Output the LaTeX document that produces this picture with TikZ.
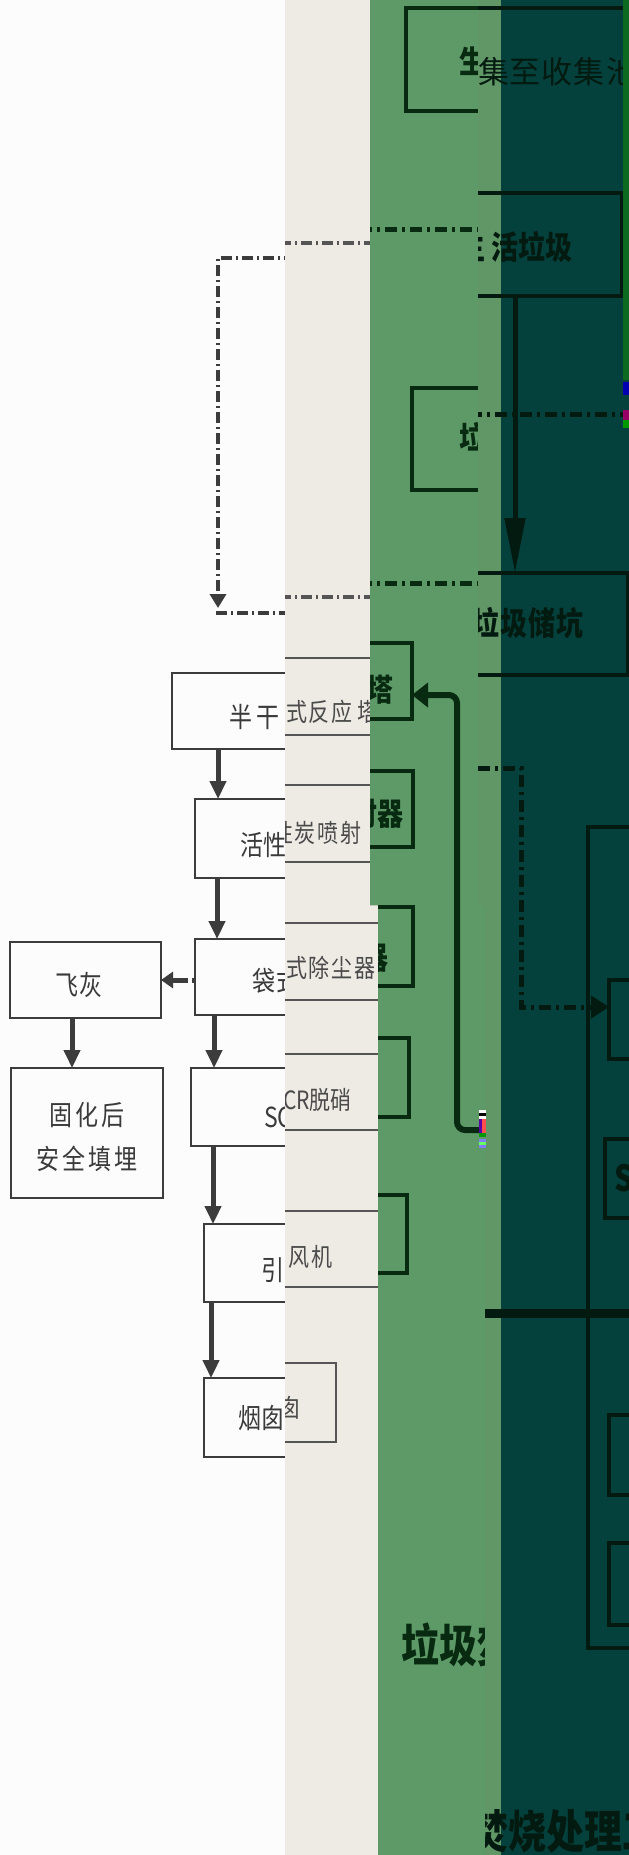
\documentclass[tikz,border=0pt]{standalone}
\usepackage{fontspec}
\usepackage{graphicx}
\newfontfamily\cjk{Noto Sans CJK SC}
\usetikzlibrary{arrows.meta}
\definecolor{cwhite}{HTML}{FCFCFC}
\definecolor{cbeige}{HTML}{EEEBE5}
\definecolor{cgreen}{HTML}{5E9A68}
\definecolor{cgreenb}{HTML}{619666}
\definecolor{cteal}{HTML}{04403C}
\definecolor{cstripe}{HTML}{0C6A20}
\definecolor{wline}{HTML}{3C3C3C}
\definecolor{bline}{HTML}{555555}
\definecolor{wtext}{HTML}{3A3A3A}
\definecolor{btext}{HTML}{4A4A4A}
\definecolor{gline}{HTML}{072A10}
\definecolor{tline}{HTML}{021A0F}
\newcommand\fsz[1]{\fontsize{#1pt}{#1pt}\selectfont}
\newcommand\tallt[1]{\scalebox{1}[1.2]{#1}}
\begin{document}
\begin{tikzpicture}[x=1pt,y=-1pt,
  bx/.style={draw,inner sep=0pt,outer sep=0pt,anchor=north west},
  wbox/.style={bx,draw=wline,line width=2pt},
  bbox/.style={bx,draw=bline,line width=2.2pt},
  gbox/.style={bx,draw=gline,line width=4pt},
  tbox/.style={bx,draw=tline,line width=4pt},
  lbl/.style={inner sep=0pt,outer sep=0pt},
  wtxt/.style={lbl,font=\cjk\fsz{23},text=wtext},
  btxt/.style={lbl,font=\cjk\fsz{21},text=btext},
  gtxt/.style={lbl,font=\cjk\bfseries\fsz{26},text=gline},
  gbig/.style={lbl,font=\cjk\bfseries\fsz{38},text=gline},
  ttxt/.style={lbl,font=\cjk\fsz{31},text=tline},
  tbtxt/.style={lbl,font=\cjk\bfseries\fsz{27},text=tline},
  warr/.style={draw=wline,line width=5pt,-{Triangle[length=18pt,width=16pt]}},
  wdd/.style={draw=wline,line width=3.5pt,dash pattern=on 11pt off 4pt on 2pt off 4pt},
  bdd/.style={draw=bline,line width=3.5pt,dash pattern=on 11pt off 4pt on 2pt off 4pt},
  gdd/.style={draw=gline,line width=5pt,dash pattern=on 12pt off 5pt on 3pt off 5pt},
  tdd/.style={draw=tline,line width=5pt,dash pattern=on 12pt off 5pt on 3pt off 5pt},
]
\useasboundingbox (0,0) rectangle (629,1855);

% ---------------- strip 1: white ----------------
\begin{scope}
\clip (0,0) rectangle (285,1855);
\fill[cwhite] (-1,-1) rectangle (286,1856);
\node[wbox,minimum width=260,minimum height=76] (w1) at (172,673) {};
\node[wbox,minimum width=230,minimum height=79] (w2) at (195,799) {};
\node[wbox,minimum width=230,minimum height=76] (w3) at (195,939) {};
\node[wbox,minimum width=151,minimum height=76] (wf) at (10,942) {};
\node[wbox,minimum width=152,minimum height=130] (wg) at (11,1068) {};
\node[wbox,minimum width=230,minimum height=78] (w4) at (191,1068) {};
\node[wbox,minimum width=200,minimum height=78] (w5) at (204,1224) {};
\node[wbox,minimum width=150,minimum height=79] (w6) at (204,1378) {};
\node[wtxt,anchor=west] (w1t) at (229,717) {\tallt{半\kern5pt干\kern5pt式}};
\node[wtxt,anchor=west] (w2t) at (240,845) {\tallt{活\kern1pt性}};
\node[wtxt,anchor=west] (w3t) at (252,981) {\tallt{袋\kern2pt式}};
\node[wtxt] (wft) at (79,985) {\tallt{飞\kern2pt灰}};
\node[wtxt] (wgt1) at (87,1115) {\tallt{固\kern3pt化\kern3pt后}};
\node[wtxt] (wgt2) at (87,1159) {\tallt{安\kern3pt全\kern3pt填\kern3pt埋}};
\node[wtxt,anchor=west] (w4t) at (264,1117) {\tallt{SC}};
\node[wtxt,anchor=west] (w5t) at (261,1270) {\tallt{引}};
\node[wtxt,anchor=west] (w6t) at (238,1418) {\tallt{烟\kern1pt囱}};
\coordinate (wxa) at (218,0);
\coordinate (wxb) at (217,0);
\coordinate (wxc) at (214,0);
\coordinate (wxd) at (213,0);
\coordinate (wxe) at (211,0);
\coordinate (wxf) at (72,0);
\coordinate (wya) at (0,980);
\draw[warr] (w1.south -| wxa) -- (w2.north -| wxa);
\draw[warr] (w2.south -| wxb) -- (w3.north -| wxb);
\draw[warr] (w3.south -| wxc) -- (w4.north -| wxc);
\draw[warr] (w4.south -| wxd) -- (w5.north -| wxd);
\draw[warr] (w5.south -| wxe) -- (w6.north -| wxe);
\draw[warr] (wf.south -| wxf) -- (wg.north -| wxf);
\draw[draw=wline,line width=5pt,{Triangle[length=12pt,width=16pt]}-,dash pattern=on 16pt off 4pt on 14pt off 10pt] (wf.east |- wya) -- (w3.west |- wya);
\coordinate (wd0) at (295,258);
\coordinate (wd1) at (218,258);
\coordinate (wd2) at (218,608);
\coordinate (wd3) at (216,613);
\coordinate (wd4) at (295,613);
\draw[wdd,-{Triangle[length=14pt,width=16pt]}] (wd0) -- (wd1) -- (wd2);
\draw[wdd] (wd3) -- (wd4);
\end{scope}

% ---------------- strip 2: beige ----------------
\begin{scope}
\clip (285,0) -- (370,0) -- (370,905) -- (378,905) -- (378,1855) -- (285,1855) -- cycle;
\fill[cbeige] (284,-1) rectangle (380,1856);
\node[bbox,minimum width=250,minimum height=77] (b1) at (200,658) {};
\node[bbox,minimum width=250,minimum height=77] (b2) at (200,785) {};
\node[bbox,minimum width=250,minimum height=77] (b3) at (200,923) {};
\node[bbox,minimum width=250,minimum height=76] (b4) at (200,1054) {};
\node[bbox,minimum width=250,minimum height=76] (b5) at (200,1211) {};
\node[bbox,minimum width=136,minimum height=79] (b6) at (200,1363) {};
\node[btxt,anchor=west] (b1t) at (286,712) {\tallt{式\kern2pt反\kern2pt应\kern5pt塔}};
\node[btxt,anchor=west] (b2t) at (272,833) {\tallt{性\kern2pt炭\kern2pt喷\kern2pt射}};
\node[btxt,anchor=west] (b3t) at (286,968) {\tallt{式\kern2pt除\kern2pt尘\kern2pt器}};
\node[btxt,anchor=west] (b4t) at (283,1100) {\tallt{CR脱硝}};
\node[btxt,anchor=west] (b5t) at (288,1257) {\tallt{风\kern3pt机}};
\node[btxt,anchor=west] (b6t) at (279,1408) {\tallt{囱}};
\coordinate (bd0) at (280,243);
\coordinate (bd1) at (385,243);
\coordinate (bd2) at (280,597);
\coordinate (bd3) at (385,597);
\draw[bdd] (bd0) -- (bd1);
\draw[bdd] (bd2) -- (bd3);
\end{scope}

% ---------------- strip 3: green ----------------
\begin{scope}
\clip (370,0) -- (478,0) -- (478,905) -- (485,905) -- (485,1855) -- (378,1855) -- (378,905) -- (370,905) -- cycle;
\fill[cgreen] (369,-1) rectangle (486,1856);
\node[gbox,minimum width=200,minimum height=103] (g1) at (406,8) {};
\node[gtxt,anchor=west] (g1t) at (459,61) {\tallt{生}};
\node[gbox,minimum width=200,minimum height=102] (g2) at (412,388) {};
\node[gtxt,anchor=west] (g2t) at (459,437) {\tallt{垃}};
\node[gbox,minimum width=160,minimum height=76] (g3) at (252,643) {};
\node[gtxt,anchor=east] (g3t) at (393,690) {\tallt{塔}};
\node[gbox,minimum width=160,minimum height=76] (g4) at (253,771) {};
\node[gtxt,anchor=east] (g4t) at (403,814) {\tallt{射器}};
\node[gbox,minimum width=160,minimum height=79] (g5) at (253,907) {};
\node[gtxt,anchor=east] (g5t) at (388,958) {\tallt{器}};
\node[gbox,minimum width=160,minimum height=79] (g6) at (249,1038) {};
\node[gbox,minimum width=160,minimum height=78] (g7) at (247,1195) {};
\node[gbig,anchor=west] (g8t) at (401,1645) {\tallt{垃圾焚}};
\coordinate (gd0) at (360,229);
\coordinate (gd1) at (490,229);
\coordinate (gd2) at (360,583);
\coordinate (gd3) at (490,583);
\draw[gdd] (gd0) -- (gd1);
\draw[gdd] (gd2) -- (gd3);
\coordinate (gc0) at (479,1130);
\coordinate (gc1) at (457,1130);
\coordinate (gc2) at (457,695);
\draw[draw=gline,line width=6pt,rounded corners=8pt,-{Triangle[length=16pt,width=24pt]}] (gc0) -- (gc1) -- (gc2) -- (g3.east |- gc2);
\end{scope}

% ---------------- strips 4-5: green edge + teal ----------------
\fill[cgreenb] (478,0) -- (501,0) -- (501,1855) -- (485,1855) -- (485,905) -- (478,905) -- cycle;
\fill[cteal] (501,0) rectangle (629,1855);
\begin{scope}
\clip (478,0) -- (629,0) -- (629,1855) -- (485,1855) -- (485,905) -- (478,905) -- cycle;
\coordinate (tl0) at (470,8);
\coordinate (tl1) at (640,8);
\draw[draw=tline,line width=4pt] (tl0) -- (tl1);
\node[ttxt,anchor=west] (t0t) at (478,72) {集\kern1pt至\kern1pt收\kern1pt集\kern1pt池};
\node[tbox,minimum width=182,minimum height=103] (tb1) at (440,193) {};
\node[tbtxt,anchor=west] (tb1t) at (458,247) {\tallt{生\kern7pt活垃圾}};
\node[tbox,minimum width=188,minimum height=102] (tb2) at (440,573) {};
\node[tbtxt,anchor=west] (tb2t) at (472,623) {\tallt{垃\kern1pt圾\kern1pt储\kern1pt坑}};
\coordinate (tx) at (515,0);
\draw[draw=tline,line width=5pt,-{Triangle[length=55pt,width=20pt]}] (tb1.south -| tx) -- (tb2.north -| tx);
\coordinate (td0) at (470,414);
\coordinate (td1) at (640,414);
\draw[tdd] (td0) -- (td1);
\node[tbox,line width=3.5pt,minimum width=200,minimum height=821] (tbig) at (588,827) {};
\node[tbox,minimum width=100,minimum height=79] (ib1) at (609,980) {};
\node[tbox,minimum width=100,minimum height=79] (ib2) at (605,1139) {};
\node[lbl,font=\cjk\bfseries\fsz{30},text=tline,anchor=west] (ib2t) at (614,1178) {\tallt{S}};
\node[tbox,minimum width=100,minimum height=80] (ib3) at (609,1415) {};
\node[tbox,minimum width=100,minimum height=82] (ib4) at (609,1543) {};
\coordinate (tc0) at (478,768);
\coordinate (tc1) at (521,768);
\coordinate (tc2) at (521,1007);
\draw[tdd,-{Triangle[length=18pt,width=22pt]}] (tc0) -- (tc1) -- (tc2) -- (ib1.west |- tc2);
\coordinate (th0) at (470,1313);
\coordinate (th1) at (640,1313);
\draw[draw=tline,line width=9pt] (th0) -- (th1);
\node[gbig,text=tline,anchor=west] (tbt) at (470,1831) {\tallt{焚烧处理工}};
\end{scope}

% ---------------- right edge stripe and glitches ----------------
\fill[cstripe] (623,0) rectangle (629,380);
\fill[blue!70!black] (623,382) rectangle (629,395);
\fill[red!60!blue] (623,410) rectangle (629,420);
\fill[green!60!black] (623,420) rectangle (629,428);
\fill[white] (479,1110) rectangle (486,1113);
\fill[black] (479,1113) rectangle (486,1116);
\fill[white] (479,1116) rectangle (486,1119);
\fill[violet!70!blue] (479,1119) rectangle (482,1133);
\fill[red!70] (482,1119) rectangle (486,1133);
\fill[green!60!black] (479,1133) rectangle (486,1137);
\fill[blue!50!white] (479,1139) rectangle (486,1142);
\fill[green!60] (479,1142) rectangle (486,1145);
\fill[blue!50!white] (479,1145) rectangle (486,1148);
\end{tikzpicture}
\end{document}
